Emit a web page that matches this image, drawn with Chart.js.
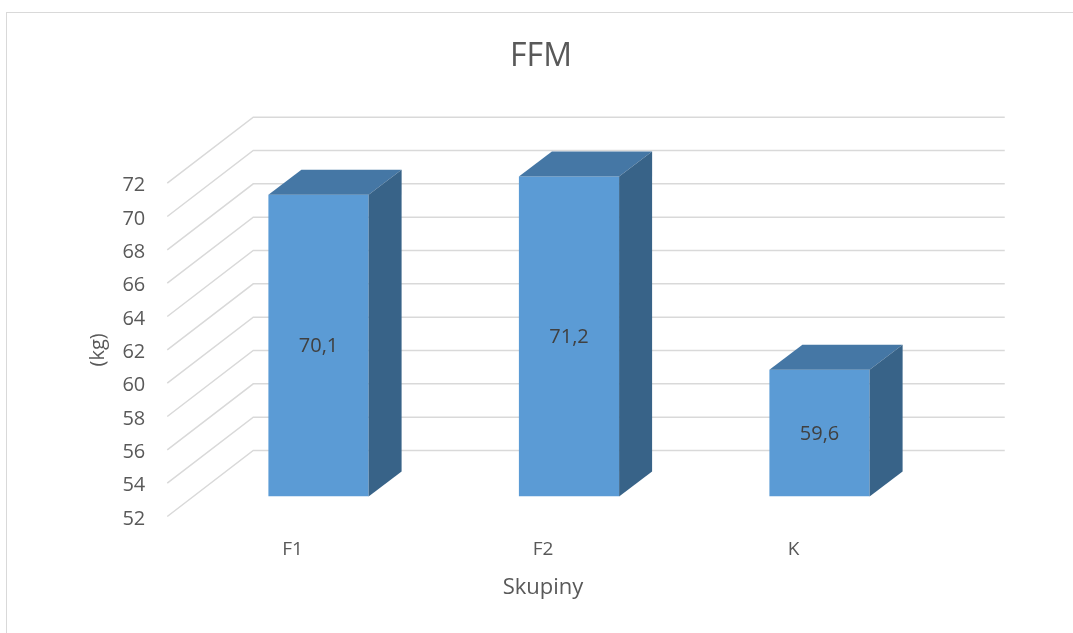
<!DOCTYPE html>
<html>
<head>
<meta charset="utf-8">
<script src="https://cdn.jsdelivr.net/npm/chart.js@4.4.1/dist/chart.umd.min.js"></script>
<style>
  html, body { margin: 0; padding: 0; background: #ffffff; overflow: hidden; }
  #frame { position: absolute; left: 6px; top: 12px; width: 1200px; height: 800px;
           border: 1.5px solid #d9d9d9; box-sizing: border-box; }
  #wrap { position: absolute; left: 0; top: 0; width: 1073px; height: 633px; }
</style>
</head>
<body>
<div id="frame"></div>
<div id="wrap"><canvas id="c" width="1073" height="633"></canvas></div>
<script>
// Groups and their mean fat-free mass (kg)
const categories = ['F1', 'F2', 'K'];
const ffmValues = [70.1, 71.2, 59.6];
// Value axis tick marks
const yTickValues = [52, 54, 56, 58, 60, 62, 64, 66, 68, 70, 72];

const FONT = '"Open Sans", "DejaVu Sans", sans-serif';
const TEXT = '#595959';
const FRONT_COLOR = '#5b9bd5';
const TOP_COLOR = '#4577a5';
const SIDE_COLOR = '#386388';
const GRID_COLOR = '#d9d9d9';

// Oblique projection offsets for the 3D look
const WALL = { dx: 86, dy: -66 };   // depth of the floor / side wall
const FRONT = { dx: 26, dy: -20 };  // where the bar fronts sit in depth
const DEPTH = { dx: 33, dy: -25 };  // thickness of each bar

Chart.defaults.font.family = FONT;

const box3d = {
  id: 'box3d',
  beforeDatasetsDraw(chart) {
    const { ctx, chartArea: a, scales: { y } } = chart;
    ctx.save();
    ctx.strokeStyle = GRID_COLOR;
    ctx.lineWidth = 1.5;
    yTickValues.forEach(v => {
      const py = y.getPixelForValue(v);
      ctx.beginPath();
      ctx.moveTo(a.left, py);
      ctx.lineTo(a.left + WALL.dx, py + WALL.dy);
      ctx.lineTo(a.right + WALL.dx, py + WALL.dy);
      ctx.stroke();
    });
    ctx.restore();
    // push the bar fronts back into the box
    ctx.save();
    ctx.translate(FRONT.dx, FRONT.dy);
  },
  afterDatasetsDraw(chart) {
    const { ctx } = chart;
    const meta = chart.getDatasetMeta(0);
    meta.data.forEach(el => {
      const { x, y, base, width } = el.getProps(['x', 'y', 'base', 'width'], true);
      const x0 = x - width / 2, x1 = x + width / 2;
      // top face
      ctx.fillStyle = TOP_COLOR;
      ctx.beginPath();
      ctx.moveTo(x0, y);
      ctx.lineTo(x1, y);
      ctx.lineTo(x1 + DEPTH.dx, y + DEPTH.dy);
      ctx.lineTo(x0 + DEPTH.dx, y + DEPTH.dy);
      ctx.closePath();
      ctx.fill();
      // side face
      ctx.fillStyle = SIDE_COLOR;
      ctx.beginPath();
      ctx.moveTo(x1, y);
      ctx.lineTo(x1 + DEPTH.dx, y + DEPTH.dy);
      ctx.lineTo(x1 + DEPTH.dx, base + DEPTH.dy);
      ctx.lineTo(x1, base);
      ctx.closePath();
      ctx.fill();
    });
    ctx.restore();

    // value labels centred on the bar fronts
    ctx.save();
    ctx.fillStyle = '#404040';
    ctx.font = '20px ' + FONT;
    ctx.textAlign = 'center';
    ctx.textBaseline = 'middle';
    meta.data.forEach((el, i) => {
      const { x, y, base } = el.getProps(['x', 'y', 'base'], true);
      const label = String(ffmValues[i]).replace('.', ',');
      ctx.fillText(label, x + FRONT.dx, (y + base) / 2 + FRONT.dy + 1);
    });
    ctx.restore();
  }
};

new Chart(document.getElementById('c'), {
  type: 'bar',
  data: {
    labels: categories,
    datasets: [{
      label: 'FFM',
      data: ffmValues,
      base: yTickValues[0],
      backgroundColor: FRONT_COLOR,
      borderWidth: 0,
      categoryPercentage: 1,
      barPercentage: 0.4
    }]
  },
  options: {
    responsive: false,
    animation: false,
    devicePixelRatio: 1,
    layout: { padding: { left: 9, right: 0, top: 0, bottom: 0 } },
    plugins: {
      legend: { display: false },
      tooltip: { enabled: false },
      title: {
        display: true,
        text: 'FFM',
        color: TEXT,
        font: { family: FONT, size: 32, weight: 'normal' },
        padding: { top: 38, bottom: 106.8 }
      }
    },
    scales: {
      x: {
        grid: { display: false, drawTicks: false },
        border: { display: false },
        ticks: { color: TEXT, font: { size: 19 }, padding: 22 },
        title: {
          display: true, text: 'Skupiny', color: TEXT,
          font: { size: 22 }, padding: { top: 0, bottom: 32 }
        },
        afterFit(s) { s.height = 116.5; }
      },
      y: {
        min: yTickValues[0],
        max: yTickValues[yTickValues.length - 1],
        grid: { display: false, drawTicks: false },
        border: { display: false },
        ticks: {
          stepSize: yTickValues[1] - yTickValues[0],
          color: TEXT, font: { size: 20 }, padding: 22, labelOffset: 2.5
        },
        title: {
          display: true, text: '(kg)', color: TEXT,
          font: { size: 20 }, padding: { top: 77, bottom: 0 }
        },
        afterFit(s) { s.width = 158.25; }
      },
      // empty right-hand strip that holds the receding depth of the box
      depth: {
        type: 'linear',
        position: 'right',
        grid: { display: false, drawTicks: false },
        border: { display: false },
        ticks: { display: false },
        afterFit(s) { s.width = 154.25; }
      }
    }
  },
  plugins: [box3d]
});
</script>
</body>
</html>
